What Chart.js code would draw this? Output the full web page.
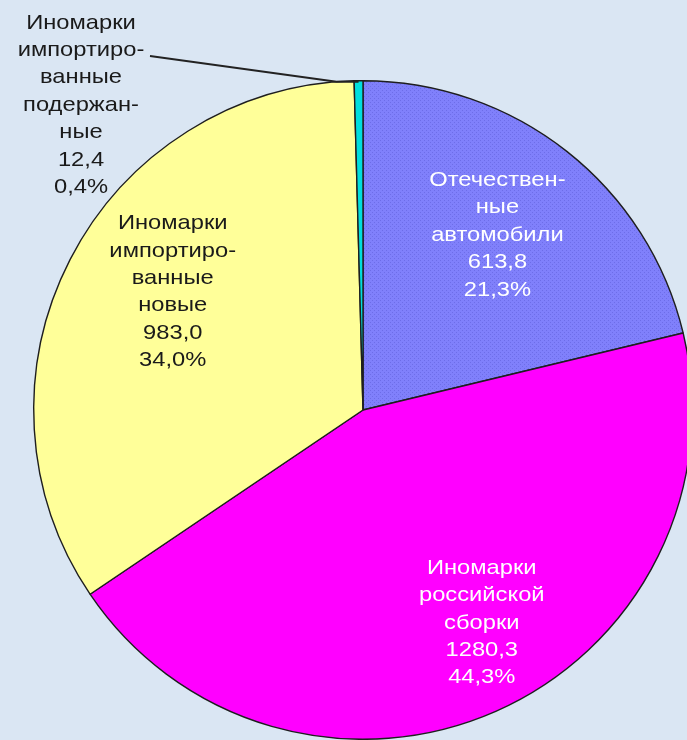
<!DOCTYPE html>
<html lang="ru">
<head>
<meta charset="UTF-8">
<title>Структура продаж автомобилей</title>
<script src="https://cdn.jsdelivr.net/npm/chart.js"></script>
<style>
  html, body { margin: 0; padding: 0; overflow: hidden; background: #dae6f3; }
  #wrap { position: relative; width: 687px; height: 740px; overflow: hidden; }
  canvas { position: absolute; left: 0; top: 0; }
</style>
</head>
<body>
<div id="wrap"><canvas id="pie" width="700" height="740"></canvas></div>
<script>
// data, clockwise from 12 o'clock
const categories = [
  ["Отечествен-", "ные", "автомобили"],
  ["Иномарки", "российской", "сборки"],
  ["Иномарки", "импортиро-", "ванные", "новые"],
  ["Иномарки", "импортиро-", "ванные", "подержан-", "ные"]
];
const values = [613.8, 1280.3, 983.0, 12.4];
const valueLabels = ["613,8", "1280,3", "983,0", "12,4"];
const percentLabels = ["21,3%", "44,3%", "34,0%", "0,4%"];

// dotted fill for the blue slice
function dots() {
  const c = document.createElement("canvas");
  c.width = 4; c.height = 4;
  const g = c.getContext("2d");
  g.fillStyle = "#8080fb";
  g.fillRect(0, 0, 4, 4);
  g.fillStyle = "#6d6de8";
  g.fillRect(0, 0, 1, 1);
  g.fillRect(2, 2, 1, 1);
  return g.createPattern(c, "repeat");
}

const colors = [dots(), "#ff00ff", "#ffff99", "#00dede"];
const textColors = ["#ffffff", "#ffffff", "#1a1a1a", "#1a1a1a"];
// label placement: angle shift (deg) and radius fraction inside the slice
const labelPos = [
  { da: -0.7, r: 0.67 },
  { da: -5.4, r: 0.74 },
  { da: 4.6, r: 0.68 },
  null
];

const FONT = '21px "Liberation Sans", Arial, sans-serif';
const LH = 27.4;
const XSCALE = 1.13; // old GDI text runs a bit wider

function drawBlock(ctx, lines, x, y, color) {
  ctx.fillStyle = color;
  const top = y - (lines.length - 1) * LH / 2;
  lines.forEach((t, i) => {
    ctx.save();
    ctx.translate(x, top + i * LH);
    ctx.scale(XSCALE, 1);
    ctx.fillText(t, 0, 0);
    ctx.restore();
  });
}

const sliceLabels = {
  id: "sliceLabels",
  afterDraw(chart) {
    const ctx = chart.ctx;
    const arcs = chart.getDatasetMeta(0).data;
    ctx.save();
    ctx.font = FONT;
    ctx.textAlign = "center";
    ctx.textBaseline = "middle";
    arcs.forEach((arc, i) => {
      const lines = categories[i].concat([valueLabels[i], percentLabels[i]]);
      const p = labelPos[i];
      if (p) {
        const a = (arc.startAngle + arc.endAngle) / 2 + p.da * Math.PI / 180;
        const r = arc.outerRadius * p.r;
        drawBlock(ctx, lines, arc.x + Math.cos(a) * r, arc.y + Math.sin(a) * r, textColors[i]);
      } else {
        // small slice: label outside, top-left, with leader line
        const a = (arc.startAngle + arc.endAngle) / 2;
        const ex = arc.x + Math.cos(a) * arc.outerRadius;
        const ey = arc.y + Math.sin(a) * arc.outerRadius;
        ctx.strokeStyle = "#222";
        ctx.lineWidth = 1.8;
        ctx.beginPath();
        ctx.moveTo(150, 56);
        ctx.lineTo(ex - 22, ey + 1);
        ctx.lineTo(ex, ey + 1);
        ctx.stroke();
        drawBlock(ctx, lines, 81, 105, textColors[i]);
      }
    });
    ctx.restore();
  }
};

new Chart(document.getElementById("pie"), {
  type: "pie",
  data: {
    labels: categories.map(c => c.join(" ")),
    datasets: [{
      data: values,
      backgroundColor: colors,
      borderColor: "#1e1e1e",
      borderWidth: 1.4
    }]
  },
  options: {
    responsive: false,
    animation: false,
    rotation: 0,
    layout: { padding: { left: 33, right: 7, top: 80, bottom: 0 } },
    plugins: { legend: { display: false }, tooltip: { enabled: false } }
  },
  plugins: [sliceLabels]
});
</script>
</body>
</html>
